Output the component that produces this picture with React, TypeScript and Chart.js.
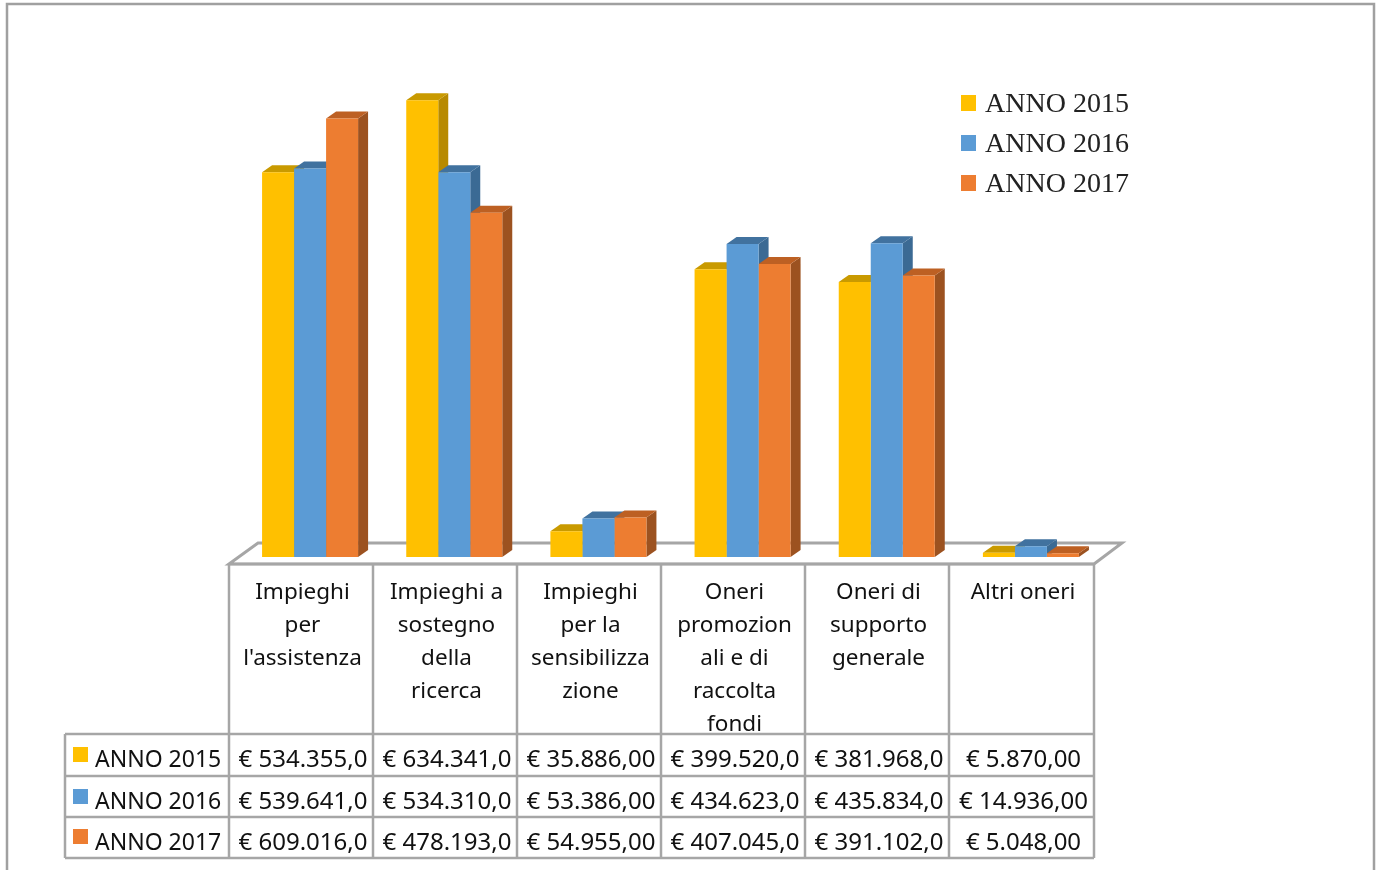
import React, { useEffect, useRef } from "react";
import { Chart, registerables } from "chart.js";

Chart.register(...registerables);

const categoryLines: string[][] = [
  ["Impieghi", "per", "l'assistenza"],
  ["Impieghi a", "sostegno", "della", "ricerca"],
  ["Impieghi", "per la", "sensibilizza", "zione"],
  ["Oneri", "promozion", "ali e di", "raccolta", "fondi"],
  ["Oneri di", "supporto", "generale"],
  ["Altri oneri"],
];
const seriesNames = ["ANNO 2015", "ANNO 2016", "ANNO 2017"];
const values2015 = [534355, 634341, 35886, 399520, 381968, 5870];
const values2016 = [539641, 534310, 53386, 434623, 435834, 14936];
const values2017 = [609016, 478193, 54955, 407045, 391102, 5048];
const cells2015 = ["€ 534.355,0", "€ 634.341,0", "€ 35.886,00", "€ 399.520,0", "€ 381.968,0", "€ 5.870,00"];
const cells2016 = ["€ 539.641,0", "€ 534.310,0", "€ 53.386,00", "€ 434.623,0", "€ 435.834,0", "€ 14.936,00"];
const cells2017 = ["€ 609.016,0", "€ 478.193,0", "€ 54.955,00", "€ 407.045,0", "€ 391.102,0", "€ 5.048,00"];
const frontColors = ["#FFC000", "#5B9BD5", "#ED7D31"];
const topColors = ["#C99A00", "#41729F", "#BD6023"];
const sideColors = ["#B88A00", "#3B6A94", "#9C5220"];

const GRID = "#A6A6A6";
const DX = 10;
const DY = 7;
const TABLE_X = [229, 373, 517, 661, 805, 949, 1094];
const TABLE_Y = [564, 734, 776, 817, 858];
const TABLE_LEFT = 65;
const allCells = [cells2015, cells2016, cells2017];

function poly(ctx: CanvasRenderingContext2D, pts: number[][], fill: string) {
  ctx.fillStyle = fill;
  ctx.beginPath();
  pts.forEach(([x, y], i) => (i ? ctx.lineTo(x, y) : ctx.moveTo(x, y)));
  ctx.closePath();
  ctx.fill();
}

const decorations = {
  id: "decorations",
  beforeDatasetsDraw(chart: Chart) {
    const ctx = chart.ctx;
    ctx.save();
    // frame
    ctx.strokeStyle = "#A0A0A0";
    ctx.lineWidth = 2.5;
    ctx.beginPath();
    ctx.moveTo(7, 870);
    ctx.lineTo(7, 4);
    ctx.lineTo(1374, 4);
    ctx.lineTo(1374, 870);
    ctx.stroke();
    // floor
    ctx.strokeStyle = GRID;
    ctx.lineWidth = 3;
    ctx.beginPath();
    ctx.moveTo(229, 564);
    ctx.lineTo(258, 543);
    ctx.lineTo(1122, 543);
    ctx.lineTo(1094, 564);
    ctx.closePath();
    ctx.stroke();
    // 3D faces of the bars
    chart.data.datasets.forEach((_, d) => {
      chart.getDatasetMeta(d).data.forEach((el: any) => {
        const l = el.x - el.width / 2;
        const r = el.x + el.width / 2;
        const t = el.y;
        const b = el.base;
        poly(ctx, [[r, t], [r + DX, t - DY], [r + DX, b - DY], [r, b]], sideColors[d]);
        poly(ctx, [[l, t], [r, t], [r + DX, t - DY], [l + DX, t - DY]], topColors[d]);
      });
    });
    ctx.restore();
  },
  afterDatasetsDraw(chart: Chart) {
    const ctx = chart.ctx;
    ctx.save();
    // data table grid
    ctx.strokeStyle = GRID;
    ctx.lineWidth = 2.5;
    ctx.beginPath();
    TABLE_X.forEach((x) => {
      ctx.moveTo(x, TABLE_Y[0]);
      ctx.lineTo(x, TABLE_Y[4]);
    });
    ctx.moveTo(TABLE_X[0], TABLE_Y[0]);
    ctx.lineTo(TABLE_X[6], TABLE_Y[0]);
    TABLE_Y.slice(1).forEach((y) => {
      ctx.moveTo(TABLE_LEFT, y);
      ctx.lineTo(TABLE_X[6], y);
    });
    ctx.moveTo(TABLE_LEFT, TABLE_Y[1]);
    ctx.lineTo(TABLE_LEFT, TABLE_Y[4]);
    ctx.stroke();
    // header text
    ctx.fillStyle = "#111111";
    ctx.font = '22.5px "Noto Sans"';
    ctx.textBaseline = "middle";
    ctx.textAlign = "center";
    categoryLines.forEach((lines, c) => {
      const cx = (TABLE_X[c] + TABLE_X[c + 1]) / 2 + 1.5;
      lines.forEach((line, i) => ctx.fillText(line, cx, 593 + i * 32.9));
    });
    // rows
    const rowCentres = [760, 802, 843];
    const swatchTops = [747, 789, 829];
    seriesNames.forEach((name, s) => {
      ctx.fillStyle = frontColors[s];
      ctx.fillRect(73, swatchTops[s], 15, 15);
      ctx.fillStyle = "#111111";
      ctx.textAlign = "left";
      ctx.font = '23px "Noto Sans"';
      ctx.fillText(name, 95, rowCentres[s]);
      ctx.textAlign = "center";
      ctx.font = '24px "Noto Sans"';
      allCells[s].forEach((txt, c) => {
        ctx.fillText(txt, (TABLE_X[c] + TABLE_X[c + 1]) / 2 + 2, rowCentres[s]);
      });
    });
    // legend
    ctx.textAlign = "left";
    ctx.textBaseline = "alphabetic";
    ctx.font = '28px "Liberation Serif"';
    seriesNames.forEach((name, s) => {
      ctx.fillStyle = frontColors[s];
      ctx.fillRect(961, 95 + s * 40, 15, 16);
      ctx.fillStyle = "#222222";
      ctx.fillText(name, 985, 112 + s * 40);
    });
    ctx.restore();
  },
};

export default function App() {
  const ref = useRef<HTMLCanvasElement>(null);
  useEffect(() => {
    const chart = new Chart(ref.current!, {
      type: "bar",
      data: {
        labels: categoryLines.map((l) => l.join(" ")),
        datasets: [values2015, values2016, values2017].map((data, i) => ({
          label: seriesNames[i],
          data,
          backgroundColor: frontColors[i],
          borderWidth: 0,
          categoryPercentage: 0.666,
          barPercentage: 1,
        })),
      },
      options: {
        animation: false,
        responsive: false,
        layout: { padding: { left: 238, right: 275, top: 53, bottom: 313 } },
        plugins: { legend: { display: false }, tooltip: { enabled: false }, title: { display: false } },
        scales: {
          x: { display: false },
          y: { display: false, min: 0, max: 700000 },
        },
      },
      plugins: [decorations],
    } as any);
    return () => chart.destroy();
  }, []);
  return (
    <div style={{ position: "fixed", inset: 0, background: "#fff", overflow: "hidden" }}>
      <canvas ref={ref} width={1378} height={870} style={{ display: "block" }} />
    </div>
  );
}
